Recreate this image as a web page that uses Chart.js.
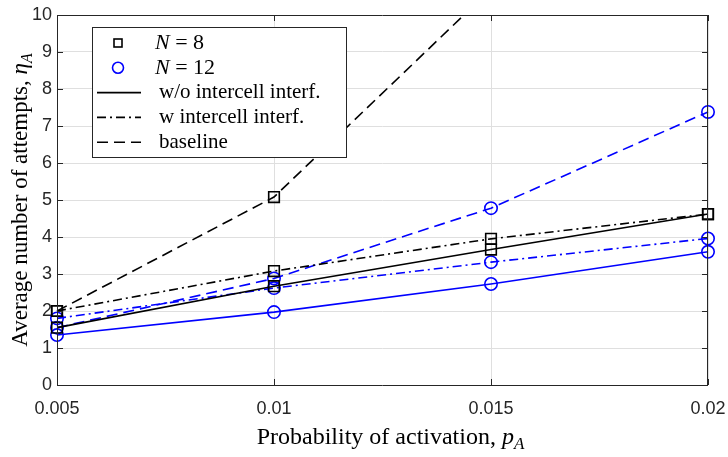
<!DOCTYPE html>
<html>
<head>
<meta charset="utf-8">
<script src="https://cdn.jsdelivr.net/npm/chart.js@4/dist/chart.umd.min.js"></script>
<style>
  html, body { margin: 0; padding: 0; background: #fff; }
  #wrap { width: 728px; height: 457px; }
</style>
</head>
<body>
<div id="wrap"><canvas id="chart" width="728" height="457"></canvas></div>
<script>
// probability of activation
const pA = [0.005, 0.01, 0.015, 0.02];
const xTicks = ['0.005', '0.01', '0.015', '0.02'];

// N = 8
const n8NoInterf = [1.55, 2.67, 3.66, 4.62];
const n8Interf = [2.0, 3.08, 3.95, 4.62];
const n8Baseline = [2.0, 5.08, 10.7, null];

// N = 12
const n12NoInterf = [1.35, 1.97, 2.73, 3.6];
const n12Interf = [1.8, 2.62, 3.32, 3.96];
const n12Baseline = [1.55, 2.88, 4.78, 7.38];

const DASH = [11, 6];
const DASHDOT = [9, 4, 2, 4];
const SERIF = '"Liberation Serif", "Times New Roman", serif';

function pts(ys) {
  return pA.map((x, i) => ({ x: x, y: ys[i] })).filter(p => p.y !== null);
}

function series(label, ys, color, dash, marker) {
  return {
    label: label,
    data: pts(ys),
    borderColor: color,
    backgroundColor: 'rgba(0,0,0,0)',
    borderWidth: 1.6,
    borderDash: dash,
    pointStyle: marker,
    pointRadius: marker === 'rect' ? 7.5 : 6.2,
    pointBorderWidth: 1.6,
    pointBorderColor: color,
    pointBackgroundColor: 'rgba(0,0,0,0)',
    clip: { left: 12, right: 12, top: 0, bottom: 12 },
    tension: 0
  };
}

// draw "text" then italic symbol with italic subscript
function mathLabel(ctx, plain, sym, sub, size, x, y) {
  ctx.font = size + 'px ' + SERIF;
  const w1 = ctx.measureText(plain).width;
  ctx.font = 'italic ' + size + 'px ' + SERIF;
  const w2 = ctx.measureText(sym).width;
  ctx.font = 'italic ' + Math.round(size * 0.7) + 'px ' + SERIF;
  const w3 = ctx.measureText(sub).width;
  const x0 = x - (w1 + w2 + w3) / 2;
  ctx.font = size + 'px ' + SERIF;
  ctx.fillText(plain, x0, y);
  ctx.font = 'italic ' + size + 'px ' + SERIF;
  ctx.fillText(sym, x0 + w1, y);
  ctx.font = 'italic ' + Math.round(size * 0.7) + 'px ' + SERIF;
  ctx.fillText(sub, x0 + w1 + w2, y + size * 0.28);
}

// box, inner ticks, legend and axis titles in MATLAB style
const framePlugin = {
  id: 'frame',
  afterDraw(chart) {
    const { ctx, chartArea: a, scales } = chart;
    ctx.save();
    ctx.strokeStyle = '#262626';
    ctx.lineWidth = 1;
    ctx.beginPath();
    ctx.rect(a.left + 0.5, a.top + 0.5, a.right - a.left - 1, a.bottom - a.top);
    ctx.stroke();
    ctx.beginPath();
    for (let v = 0; v <= 10; v++) {
      const y = Math.round(scales.y.getPixelForValue(v)) + 0.5;
      ctx.moveTo(a.left, y); ctx.lineTo(a.left + 6, y);
      ctx.moveTo(a.right, y); ctx.lineTo(a.right - 6, y);
    }
    pA.forEach(v => {
      const x = Math.round(scales.x.getPixelForValue(v)) + 0.5;
      ctx.moveTo(x, a.bottom); ctx.lineTo(x, a.bottom - 6);
      ctx.moveTo(x, a.top); ctx.lineTo(x, a.top + 6);
    });
    ctx.stroke();

    // legend
    const lx = 92, ly = 27, lw = 254, lh = 130;
    ctx.fillStyle = '#fff';
    ctx.fillRect(lx, ly, lw, lh);
    ctx.strokeStyle = '#262626';
    ctx.lineWidth = 1;
    ctx.strokeRect(lx + 0.5, ly + 0.5, lw, lh);
    const rows = [
      { kind: 'rect', color: '#000', label: ['N', ' = 8'] },
      { kind: 'circle', color: '#0000ff', label: ['N', ' = 12'] },
      { kind: 'line', dash: [], label: [null, 'w/o intercell interf.'] },
      { kind: 'line', dash: DASHDOT, label: [null, 'w intercell interf.'] },
      { kind: 'line', dash: DASH, label: [null, 'baseline'] }
    ];
    const sx1 = lx + 5, sx2 = lx + 49, sxm = lx + 26, tx = lx + 67;
    rows.forEach((r, i) => {
      const y = ly + 16 + i * 24.8;
      ctx.lineWidth = 1.6;
      if (r.kind === 'rect') {
        ctx.strokeStyle = r.color;
        ctx.strokeRect(sxm - 4, y - 4, 8, 8);
      } else if (r.kind === 'circle') {
        ctx.strokeStyle = r.color;
        ctx.beginPath(); ctx.arc(sxm, y, 5.5, 0, Math.PI * 2); ctx.stroke();
      } else {
        ctx.strokeStyle = '#000';
        ctx.setLineDash(r.dash);
        ctx.beginPath(); ctx.moveTo(sx1, y); ctx.lineTo(sx2, y); ctx.stroke();
        ctx.setLineDash([]);
      }
      ctx.fillStyle = '#000';
      ctx.textBaseline = 'middle';
      ctx.textAlign = 'left';
      if (r.label[0]) {
        let x = tx - 4;
        ctx.font = 'italic 22px ' + SERIF;
        ctx.fillText(r.label[0], x, y);
        x += ctx.measureText(r.label[0]).width;
        ctx.font = '22px ' + SERIF;
        ctx.fillText(r.label[1], x, y);
      } else {
        ctx.font = '21px ' + SERIF;
        ctx.fillText(r.label[1], tx, y);
      }
    });

    // axis titles
    ctx.fillStyle = '#000';
    ctx.textBaseline = 'middle';
    ctx.textAlign = 'left';
    mathLabel(ctx, 'Probability of activation, ', 'p', 'A', 24, (a.left + a.right) / 2 + 8, 438);
    ctx.translate(21, (a.top + a.bottom) / 2);
    ctx.rotate(-Math.PI / 2);
    mathLabel(ctx, 'Average number of attempts, ', '\u03b7', 'A', 23, 0, 0);
    ctx.restore();
  }
};

const tickFont = { family: '"Liberation Sans", Arial, sans-serif', size: 18 };

new Chart(document.getElementById('chart').getContext('2d'), {
  type: 'line',
  data: {
    datasets: [
      series('N=8 w/o', n8NoInterf, '#000', [], 'rect'),
      series('N=8 w', n8Interf, '#000', DASHDOT, 'rect'),
      series('N=8 baseline', n8Baseline, '#000', DASH, 'rect'),
      series('N=12 w/o', n12NoInterf, '#0000ff', [], 'circle'),
      series('N=12 w', n12Interf, '#0000ff', DASHDOT, 'circle'),
      series('N=12 baseline', n12Baseline, '#0000ff', DASH, 'circle')
    ]
  },
  options: {
    responsive: false,
    animation: false,
    layout: { autoPadding: false, padding: { top: 15, right: 20, left: 0, bottom: 0 } },
    plugins: { legend: { display: false }, tooltip: { enabled: false } },
    scales: {
      x: {
        type: 'linear',
        min: 0.005,
        max: 0.02,
        afterBuildTicks: s => { s.ticks = pA.map(v => ({ value: v })); },
        afterFit: s => { s.height = 72; s.paddingLeft = 0; s.paddingRight = 0; },
        ticks: {
          color: '#262626',
          font: tickFont,
          padding: 13,
          maxRotation: 0,
          callback: v => xTicks[pA.findIndex(p => Math.abs(p - v) < 1e-9)]
        },
        grid: { color: '#dfdfdf', lineWidth: 1, drawTicks: false },
        border: { display: false }
      },
      y: {
        min: 0,
        max: 10,
        afterFit: s => { s.width = 57; s.paddingTop = 0; s.paddingBottom = 0; },
        ticks: { stepSize: 1, color: '#262626', font: tickFont, padding: 5 },
        grid: { color: '#dfdfdf', lineWidth: 1, drawTicks: false },
        border: { display: false }
      }
    }
  },
  plugins: [framePlugin]
});
</script>
</body>
</html>
